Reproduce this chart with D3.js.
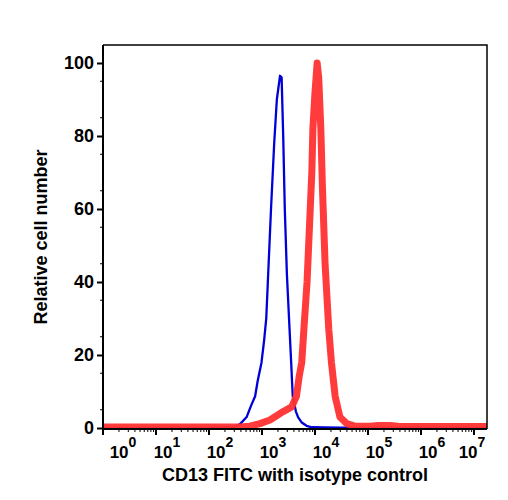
<!DOCTYPE html>
<html><head><meta charset="utf-8">
<script src="https://cdn.jsdelivr.net/npm/d3@7"></script>
<style>body{margin:0;background:#fff}svg{display:block}text{font-family:"Liberation Sans",Arial,sans-serif;font-weight:bold}</style>
</head><body>
<script>
// Data
const yTicks = [0, 20, 40, 60, 80, 100];
const xDecades = [0, 1, 2, 3, 4, 5, 6, 7];
const blueLog = [0, 2.0, 2.36, 2.49, 2.58, 2.71, 2.79, 2.87, 2.92, 2.99, 3.04, 3.08, 3.11, 3.17, 3.23, 3.28, 3.34, 3.37, 3.40, 3.43, 3.47, 3.52, 3.55, 3.58, 3.64, 3.68, 3.75, 3.84, 3.94, 4.47, 7.25];
const blueVal = [0, 0, 0.2, 0.4, 1, 3, 6, 8.7, 13, 17.9, 24, 30, 40, 60, 78, 90, 96.5, 96, 80, 60, 42, 27, 18, 8.7, 4.5, 3, 1.5, 0.6, 0.2, 0.1, 0];
const redLog = [0, 2.58, 2.77, 2.96, 3.15, 3.40, 3.56, 3.65, 3.70, 3.75, 3.79, 3.85, 3.91, 3.94, 3.96, 4.00, 4.04, 4.07, 4.11, 4.14, 4.19, 4.26, 4.31, 4.38, 4.47, 4.60, 4.75, 5.04, 5.19, 5.42, 5.57, 7.25];
const redVal = [0.3, 0.3, 0.5, 1.2, 2.2, 4.5, 5.8, 8.7, 14, 18, 27, 40, 60, 70, 82, 92, 100, 96, 82, 66, 45, 27, 18, 8.7, 3, 1.2, 0.5, 0.5, 0.7, 0.7, 0.5, 0.4];

const W = 508, H = 500;
const L = 103, R = 487, T = 45, B = 429;
const svg = d3.select("body").append("svg").attr("width", W).attr("height", H);

const x = d3.scaleLog().domain([1, Math.pow(10, 7.245)]).range([L, R]);
const y = d3.scaleLinear().domain([0, 100]).range([428, 63]);

// curves
const line = d3.line().x(d => x(Math.pow(10, d[0]))).y(d => y(d[1]));
svg.append("clipPath").attr("id", "c").append("rect").attr("x", L).attr("y", T).attr("width", R - L).attr("height", B - T);
const g = svg.append("g").attr("clip-path", "url(#c)");
g.append("path").datum(blueLog.map((v, i) => [v, blueVal[i]]))
  .attr("d", line).attr("fill", "none").attr("stroke", "#0000d8").attr("stroke-width", 2.3).attr("stroke-linejoin", "round");
g.append("path").datum(redLog.map((v, i) => [v, redVal[i]]))
  .attr("d", line).attr("fill", "none").attr("stroke", "#ff3030").attr("stroke-opacity", 0.95).attr("stroke-width", 7).attr("stroke-linejoin", "round");

// frame
svg.append("path").attr("d", `M${L},${T}H${R}V${B}`).attr("fill", "none").attr("stroke", "#000").attr("stroke-width", 1.5);

// y axis
const ya = svg.append("g").attr("transform", `translate(${L},0)`)
  .call(d3.axisLeft(y).tickValues(yTicks).tickSize(6).tickPadding(3).tickFormat(d3.format("d")));
ya.select(".domain").remove();
ya.append("line").attr("x1", 0).attr("x2", 0).attr("y1", T).attr("y2", B).attr("stroke", "#000").attr("stroke-width", 2);
ya.selectAll(".tick line").attr("stroke-width", 2);
ya.selectAll(".tick text").attr("font-size", 18).attr("fill", "#000").attr("font-family", "Liberation Sans, Arial, sans-serif").attr("font-weight", "bold");
const yMinor = d3.range(5, 100, 10);
ya.selectAll(".ym").data(yMinor).enter().append("line").attr("x1", -3).attr("x2", 0).attr("y1", d => y(d)).attr("y2", d => y(d)).attr("stroke", "#000").attr("stroke-width", 1);

// x axis
const xa = svg.append("g").attr("transform", `translate(0,${B})`);
xa.append("line").attr("x1", L - 1).attr("x2", R).attr("stroke", "#000").attr("stroke-width", 2);
const minors = [];
xDecades.forEach(d => { for (let k = 2; k <= 9; k++) { const v = k * Math.pow(10, d); if (x(v) <= R) minors.push(v); } });
xa.selectAll(".xm").data(minors).enter().append("line").attr("x1", d => x(d)).attr("x2", d => x(d)).attr("y1", 0).attr("y2", 3).attr("stroke", "#000").attr("stroke-width", 1);
xa.selectAll(".xM").data(xDecades).enter().append("line").attr("x1", d => x(Math.pow(10, d))).attr("x2", d => x(Math.pow(10, d))).attr("y1", 0).attr("y2", 6).attr("stroke", "#000").attr("stroke-width", 2);
const lab = xa.selectAll(".xl").data(xDecades).enter().append("text")
  .attr("x", d => Math.max(L + 20, Math.min(R - 15, x(Math.pow(10, d)) + 11)))
  .attr("y", 29).attr("text-anchor", "middle").attr("fill", "#000");
lab.append("tspan").attr("font-size", 17).text("10");
lab.append("tspan").attr("font-size", 14).attr("dy", -11).text(d => d);

// titles
svg.append("text").attr("x", 295).attr("y", 481).attr("text-anchor", "middle").attr("font-size", 18).text("CD13 FITC with isotype control");
svg.append("text").attr("transform", "translate(47,237) rotate(-90)").attr("text-anchor", "middle").attr("font-size", 18).text("Relative cell number");
</script>
</body></html>
